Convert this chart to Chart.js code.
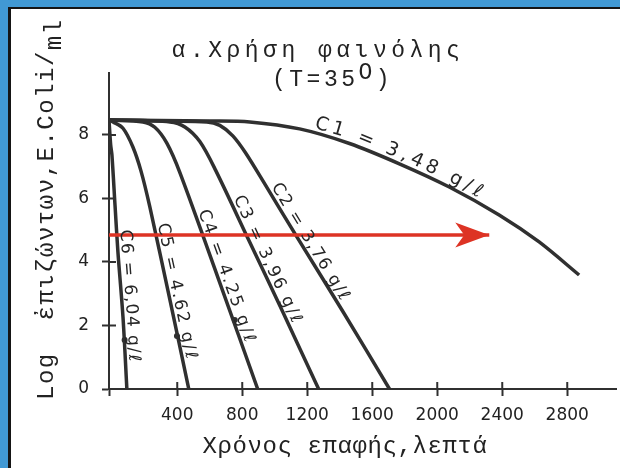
<!DOCTYPE html>
<html>
<head>
<meta charset="utf-8">
<script src="https://cdn.jsdelivr.net/npm/chart.js@4/dist/chart.umd.min.js"></script>
<style>
  html, body { margin: 0; padding: 0; background: #fff; }
  #wrap { width: 620px; height: 468px; }
</style>
</head>
<body>
<div id="wrap"><canvas id="chart" width="620" height="468"></canvas></div>
<script>
// survival curves: [contact time (min), log survivors]
const c1 = [[-20, 8.47], [600, 8.44], [846, 8.41], [1153, 8.19], [1460, 7.73], [1767, 7.09], [2074, 6.36], [2381, 5.48], [2627, 4.63], [2873, 3.59]];
const c2 = [[-20, 8.47], [582, 8.41], [662, 8.30], [742, 7.97], [821, 7.43], [944, 6.41], [1141, 4.75], [1423, 2.41], [1706, 0]];
const c3 = [[-20, 8.47], [355, 8.41], [447, 8.25], [539, 7.79], [635, 6.90], [828, 4.82], [1049, 2.43], [1270, 0]];
const c4 = [[-20, 8.47], [189, 8.41], [262, 8.24], [336, 7.74], [418, 6.79], [656, 3.43], [895, 0]];
const c5 = [[-20, 8.47], [5, 8.41], [66, 8.21], [127, 7.62], [177, 6.86], [231, 5.74], [351, 2.90], [471, 0]];
const c6 = [[-20, 8.47], [-10, 7.70], [-2, 7.37], [17, 5.79], [35, 4.31], [66, 2.27], [90, 0]];
const curveNames = ["C1 = 3,48 g/ℓ", "C2 = 3,76 g/ℓ", "C3 = 3,96 g/ℓ", "C4 = 4.25 g/ℓ", "C5 = 4.62 g/ℓ", "C6 = 6,04 g/ℓ"];

// small dots marked on three of the curves
const markedPoints = [[76, 1.54], [398, 1.67], [754, 2.17]];

// red arrow (log level and start/end time)
const arrowY = 4.85;
const arrowX = [-20, 2320];

const xTicks = [-20, 400, 800, 1200, 1600, 2000, 2400, 2800]; // -20 = origin mark, no label
const yTicks = [0, 2, 4, 6, 8];

const curves = [c1, c2, c3, c4, c5, c6];
const ink = "#303030";
const red = "#dd3324";
const mono = '"Liberation Mono", "DejaVu Sans Mono", monospace';

// where each label sits along its curve
const labelPlaces = [
  { from: { x: 1233 }, to: { x: 2240 }, offset: 5, size: 19 },
  { from: { y: 6.3 }, to: { y: 2.7 }, offset: 4, size: 17 },
  { from: { y: 5.95 }, to: { y: 2.0 }, offset: 4, size: 17 },
  { from: { y: 5.54 }, to: { y: 1.4 }, offset: 4, size: 17 },
  { from: { y: 5.16 }, to: { y: 0.9 }, offset: 4, size: 17 },
  { from: { y: 5.0 }, to: { y: 0.85 }, offset: 4, size: 17 },
];

function drawAlong(ctx, pts, text, from, to, offset) {
  const cum = [0];
  for (let i = 1; i < pts.length; i++) {
    cum.push(cum[i - 1] + Math.hypot(pts[i].x - pts[i - 1].x, pts[i].y - pts[i - 1].y));
  }
  const arcOf = (key, v) => {
    for (let i = 0; i < pts.length - 1; i++) {
      const a = pts[i][key], b = pts[i + 1][key];
      if (a !== b && (v - a) * (v - b) <= 0) {
        return cum[i] + (v - a) / (b - a) * (cum[i + 1] - cum[i]);
      }
    }
    return 0;
  };
  const pointAt = (s) => {
    s = Math.max(0, Math.min(cum[cum.length - 1], s));
    let i = 0;
    while (i < cum.length - 2 && cum[i + 1] < s) i++;
    const t = (s - cum[i]) / ((cum[i + 1] - cum[i]) || 1);
    return { x: pts[i].x + t * (pts[i + 1].x - pts[i].x), y: pts[i].y + t * (pts[i + 1].y - pts[i].y) };
  };
  const s0 = arcOf(from.key, from.v);
  const s1 = arcOf(to.key, to.v);
  const chars = [...text];
  const widths = chars.map((ch) => ctx.measureText(ch).width);
  const total = widths.reduce((a, b) => a + b, 0);
  const gap = (s1 - s0 - total) / (chars.length - 1);
  let s = s0;
  chars.forEach((ch, i) => {
    const m = s + widths[i] / 2;
    const p = pointAt(m);
    const a = pointAt(m - 6), b = pointAt(m + 6);
    const th = Math.atan2(b.y - a.y, b.x - a.x);
    ctx.save();
    ctx.translate(p.x + Math.sin(th) * offset, p.y - Math.cos(th) * offset);
    ctx.rotate(th);
    ctx.fillText(ch, -widths[i] / 2, 0);
    ctx.restore();
    s += widths[i] + gap;
  });
}

const decor = {
  id: "decor",
  beforeDraw(chart) {
    const ctx = chart.ctx, w = chart.width, h = chart.height;
    ctx.save();
    ctx.fillStyle = "#fff";
    ctx.fillRect(0, 0, w, h);
    ctx.fillStyle = "#4199d4";
    ctx.fillRect(0, 0, w, 7);
    ctx.fillRect(0, 0, 8, h);
    ctx.fillStyle = "#151515";
    ctx.fillRect(8, 7, w - 8, 2);
    ctx.fillRect(8, 7, 3, h - 7);
    ctx.restore();
  },
  afterDatasetsDraw(chart) {
    const ctx = chart.ctx, xs = chart.scales.x, ys = chart.scales.y, area = chart.chartArea;
    ctx.save();

    // tick marks crossing the axes
    ctx.strokeStyle = ink;
    ctx.lineWidth = 2;
    ctx.beginPath();
    xs.ticks.forEach((t) => {
      const px = xs.getPixelForValue(t.value);
      ctx.moveTo(px, area.bottom);
      ctx.lineTo(px, area.bottom - 7);
    });
    ys.ticks.forEach((t) => {
      const py = ys.getPixelForValue(t.value);
      ctx.moveTo(area.left, py);
      ctx.lineTo(area.left + 7, py);
    });
    ctx.stroke();

    // arrow head
    const tx = xs.getPixelForValue(arrowX[1]), ty = ys.getPixelForValue(arrowY);
    ctx.fillStyle = red;
    ctx.beginPath();
    ctx.moveTo(tx, ty);
    ctx.lineTo(tx - 34, ty - 12.5);
    ctx.lineTo(tx - 25, ty);
    ctx.lineTo(tx - 34, ty + 12.5);
    ctx.closePath();
    ctx.fill();

    // curve labels
    ctx.fillStyle = "#262626";
    ctx.textBaseline = "alphabetic";
    ctx.textAlign = "left";
    curves.forEach((c, i) => {
      const lp = labelPlaces[i];
      ctx.font = lp.size + 'px "DejaVu Sans"';
      const pts = c.map(([x, y]) => ({ x: xs.getPixelForValue(x), y: ys.getPixelForValue(y) }));
      const conv = (o) => ("x" in o ? { key: "x", v: xs.getPixelForValue(o.x) } : { key: "y", v: ys.getPixelForValue(o.y) });
      drawAlong(ctx, pts, curveNames[i], conv(lp.from), conv(lp.to), lp.offset);
    });

    // titles
    ctx.fillStyle = "#222";
    ctx.font = "23px " + mono;
    ctx.letterSpacing = "4.5px";
    ctx.textAlign = "center";
    ctx.fillText("α.Χρήση φαινόλης", 318, 57);
    ctx.textAlign = "left";
    ctx.letterSpacing = "3.5px";
    let x = 272;
    ctx.fillText("(T=35", x, 86);
    x += ctx.measureText("(T=35").width;
    ctx.fillText("O", x, 79);
    x += ctx.measureText("O").width;
    ctx.fillText(")", x, 86);

    ctx.font = "24px " + mono;
    ctx.letterSpacing = "0.6px";
    ctx.textAlign = "center";
    ctx.fillText("Χρόνος επαφής,λεπτά", 345, 453);

    ctx.letterSpacing = "1.5px";
    ctx.textAlign = "left";
    ctx.translate(53, 400);
    ctx.rotate(-Math.PI / 2);
    const yMain = "Log  ἐπιζώντων,E.Coli/";
    ctx.fillText(yMain, 0, 0);
    ctx.fillText("ml", ctx.measureText(yMain).width, 8);
    ctx.restore();
  },
};

new Chart(document.getElementById("chart"), {
  type: "line",
  data: {
    datasets: [
      ...curves.map((c) => ({
        data: c.map(([x, y]) => ({ x, y })),
        borderColor: ink,
        borderWidth: 3.5,
        pointRadius: 0,
        fill: false,
        tension: 0.3,
        order: 1,
      })),
      {
        data: arrowX.map((x) => ({ x, y: arrowY })),
        borderColor: red,
        borderWidth: 3.5,
        pointRadius: 0,
        fill: false,
        order: -1,
      },
      {
        data: markedPoints.map(([x, y]) => ({ x, y })),
        showLine: false,
        pointRadius: 3,
        pointBackgroundColor: ink,
        pointBorderWidth: 0,
        order: 0,
      },
    ],
  },
  options: {
    responsive: false,
    animation: false,
    layout: { padding: { top: 73, right: 3, left: 0, bottom: 0 } },
    plugins: {
      legend: { display: false },
      title: { display: false },
      tooltip: { enabled: false },
    },
    scales: {
      x: {
        type: "linear",
        min: -20,
        max: 3100,
        afterBuildTicks: (s) => { s.ticks = xTicks.map((v) => ({ value: v })); },
        afterFit: (s) => { s.height = 79; },
        ticks: {
          autoSkip: false,
          maxRotation: 0,
          padding: 9,
          color: "#222",
          font: { family: "DejaVu Sans", size: 17 },
          callback: (v) => (v < 0 ? "" : v),
        },
        grid: { drawOnChartArea: false, drawTicks: true, tickLength: 7, tickWidth: 2, color: ink },
        border: { display: true, color: ink, width: 2 },
      },
      y: {
        min: 0,
        max: 9.95,
        afterBuildTicks: (s) => { s.ticks = yTicks.map((v) => ({ value: v })); },
        afterFit: (s) => { s.width = 109; },
        ticks: {
          padding: 13,
          color: "#222",
          font: { family: "DejaVu Sans", size: 17 },
        },
        grid: { drawOnChartArea: false, drawTicks: true, tickLength: 7, tickWidth: 2, color: ink },
        border: { display: true, color: ink, width: 2 },
      },
    },
  },
  plugins: [decor],
});
</script>
</body>
</html>
